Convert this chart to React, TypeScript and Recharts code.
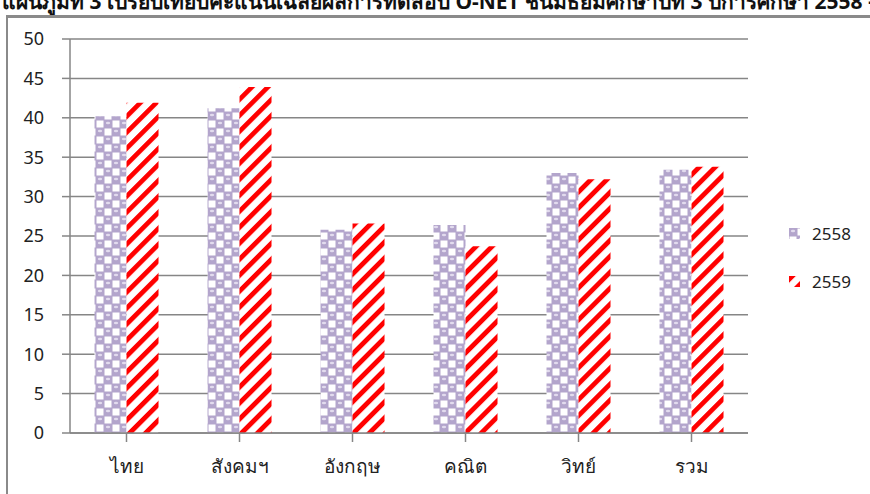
import React from "react";
import { BarChart, Bar, XAxis, YAxis, CartesianGrid } from "recharts";

const categories = ["ไทย", "สังคมฯ", "อังกฤษ", "คณิต", "วิทย์", "รวม"];
const values2558 = [40.2, 41.2, 25.8, 26.4, 33.0, 33.4];
const values2559 = [41.9, 43.9, 26.6, 23.7, 32.2, 33.8];
const seriesNames = ["2558", "2559"];
const yTicks = [0, 5, 10, 15, 20, 25, 30, 35, 40, 45, 50];
const titleText =
  "แผนภูมิที่ 3 เปรียบเทียบคะแนนเฉลี่ยผลการทดสอบ O-NET ชั้นมัธยมศึกษาปีที่ 3 ปีการศึกษา 2558 – 2559";

const data = categories.map((c, i) => ({
  name: c,
  s2558: values2558[i],
  s2559: values2559[i],
}));

const FONT = "'Noto Sans', 'DejaVu Sans', sans-serif";

const LegendBox = () => (
  <div style={{ position: "absolute", left: 789, top: 220, fontFamily: FONT }}>
    {seriesNames.map((n, i) => (
      <div
        key={n}
        style={{ display: "flex", alignItems: "center", height: 26, marginBottom: i === 0 ? 22 : 0 }}
      >
        <svg width={11} height={11} style={{ marginRight: 12 }}>
          <rect width={11} height={11} fill={i === 0 ? "url(#p2558)" : "url(#p2559)"} />
        </svg>
        <span style={{ fontSize: 17, color: "#222" }}>{n}</span>
      </div>
    ))}
  </div>
);

export default function App() {
  return (
    <div
      style={{
        position: "fixed",
        left: 0,
        top: 0,
        width: 870,
        height: 494,
        overflow: "hidden",
        background: "#fff",
      }}
    >
      <div
        style={{
          position: "absolute",
          left: 2,
          top: -15,
          whiteSpace: "nowrap",
          fontFamily: FONT,
          fontWeight: "bold",
          fontSize: 21,
          color: "#111",
        }}
      >
        {titleText}
      </div>
      <div
        style={{
          position: "absolute",
          left: 6,
          top: 15,
          width: 900,
          height: 520,
          borderLeft: "2px solid #8a8a8a",
          borderTop: "3px solid #8a8a8a",
        }}
      />
      <div style={{ position: "absolute", left: 0, top: 0 }}>
        <BarChart
          width={870}
          height={494}
          data={data}
          margin={{ top: 39, right: 122, bottom: 31, left: 0 }}
          barGap={0}
          barCategoryGap="21.7%"
        >
          <defs>
            <pattern id="p2558" width={16} height={16} patternUnits="userSpaceOnUse">
              <rect width={16} height={16} fill="#b3a5cc" />
              <rect x={8.5} y={0.5} width={7} height={7} fill="#ffffff" />
              <rect x={0.5} y={8.5} width={7} height={7} fill="#ffffff" />
              <ellipse cx={4} cy={3} rx={2.2} ry={1.2} fill="#e2dbee" />
              <ellipse cx={12} cy={11} rx={2.2} ry={1.2} fill="#e2dbee" />
            </pattern>
            <pattern
              id="p2559"
              width={11.3}
              height={11.3}
              patternUnits="userSpaceOnUse"
              patternTransform="rotate(45)"
            >
              <rect width={11.3} height={11.3} fill="#ffffff" />
              <rect width={4.8} height={11.3} fill="#ff0000" />
            </pattern>
          </defs>
          <CartesianGrid vertical={false} stroke="#868686" strokeWidth={1.5} />
          <XAxis
            dataKey="name"
            height={30}
            stroke="#868686"
            strokeWidth={1.5}
            tickSize={9}
            tick={{ fill: "#222", fontSize: 19, fontFamily: FONT, dy: 16 }}
            interval={0}
          />
          <YAxis
            width={70}
            domain={[0, 50]}
            ticks={yTicks}
            stroke="#868686"
            strokeWidth={1.5}
            tickSize={8}
            tick={{ fill: "#222", fontSize: 18, fontFamily: FONT, dx: -16 }}
            interval={0}
          />
          <Bar dataKey="s2558" name={seriesNames[0]} fill="url(#p2558)" isAnimationActive={false} />
          <Bar dataKey="s2559" name={seriesNames[1]} fill="url(#p2559)" isAnimationActive={false} />
        </BarChart>
      </div>
      <LegendBox />
    </div>
  );
}
